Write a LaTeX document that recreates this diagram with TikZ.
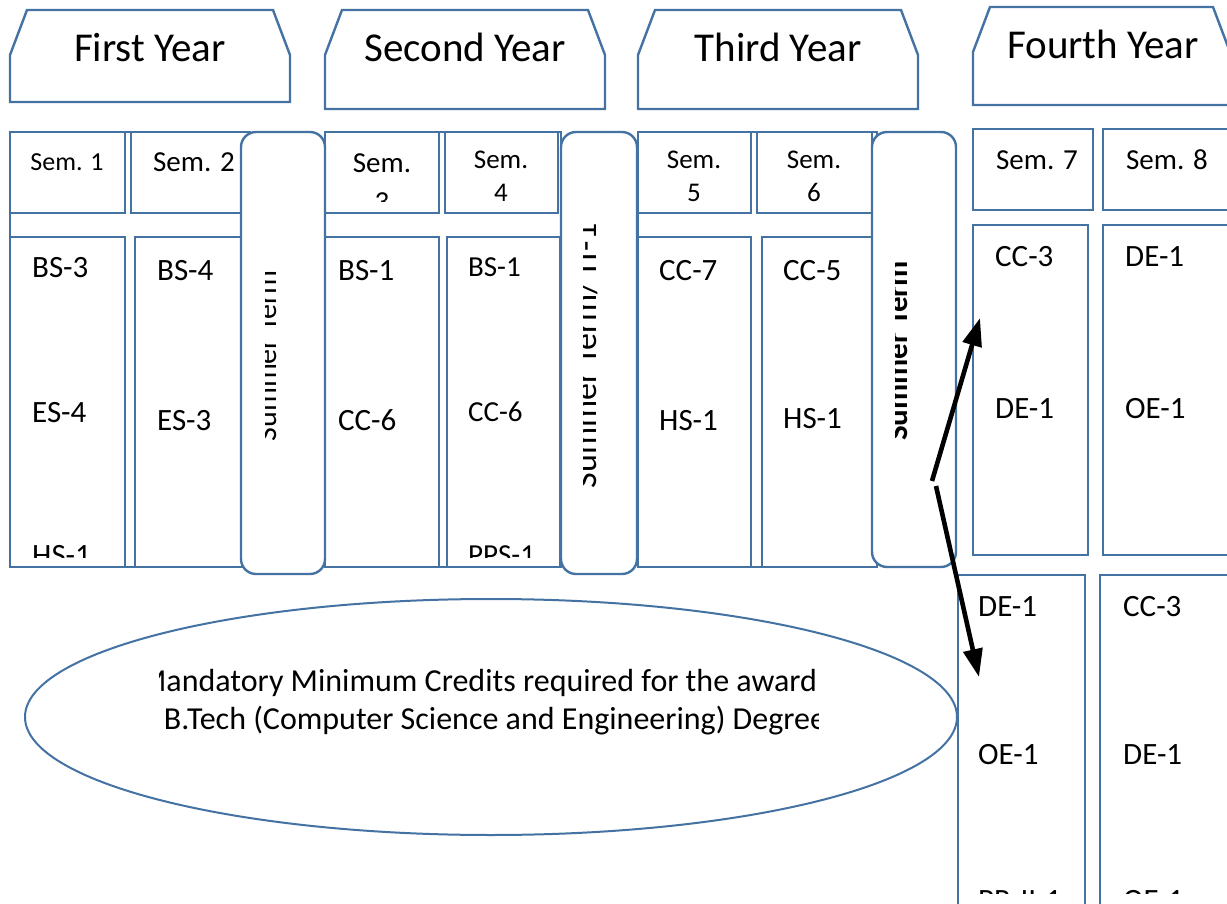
\documentclass[tikz,border=0pt]{standalone}
\usepackage{fontspec}
\setmainfont{Carlito}
\usetikzlibrary{arrows.meta,shapes.geometric}
\definecolor{edge}{RGB}{68,114,163}
\tikzset{
  ln/.style={draw=edge, line width=2.4pt, fill=white},
  pill/.style={ln, rounded corners=15pt},
  lbl/.style={anchor=base west, inner sep=0pt, font=\fontsize{31}{37}\selectfont},
  smallbl/.style={anchor=base west, inner sep=0pt, font=\fontsize{29}{35}\selectfont},
  semlbl/.style={anchor=base, inner sep=0pt},
  head/.style={anchor=base, inner sep=0pt, font=\fontsize{41}{49}\selectfont},
  vtxt/.style={rotate=90, anchor=base, inner sep=0pt},
  jump/.style={line width=4.6pt, -{Triangle[length=28pt,width=19pt]}},
}
% year tab: left x, right x, top y, bottom y
\newcommand\yeartab[4]{%
  \draw[ln] (#1+17,#3) -- (#2-17,#3) -- (#2,#3+45) -- (#2,#4) -- (#1,#4) -- (#1,#3+45) -- cycle;}
\begin{document}
\begin{tikzpicture}[x=1pt,y=-1pt]
\clip (0,0) rectangle (1227,904);
\fill[white] (0,0) rectangle (1227,904);

% ---- year tabs ----
\yeartab{10}{290}{10}{102}
\yeartab{325}{605}{10}{109}
\yeartab{638}{918}{10}{109}
\yeartab{973}{1230}{7}{105}
\node[head] (y1) at (150,62) {First Year};
\node[head] (y2) at (465,62) {Second Year};
\node[head] (y3) at (778,62) {Third Year};
\node[head] (y4) at (1103,59) {Fourth Year};

% ---- year columns ----
\draw[ln] (10,132) rectangle (250,567);
\draw[ln] (325,132) rectangle (561,567);
\draw[ln] (638,132) rectangle (877,567);

% ---- semester boxes ----
\draw[ln] (10,132) rectangle (125,213);
\draw[ln] (131,132) rectangle (250,213);
\draw[ln] (325,132) rectangle (439,213);
\draw[ln] (445,132) rectangle (558,213);
\draw[ln] (638,132) rectangle (751,213);
\draw[ln] (757,132) rectangle (872,213);
\draw[ln] (973,129) rectangle (1093,210);
\draw[ln] (1103,129) rectangle (1240,210);

\node[semlbl, font=\fontsize{26}{31}\selectfont] (s1) at (67,171) {Sem. 1};
\node[semlbl, font=\fontsize{29}{35}\selectfont] (s2) at (194,172) {Sem. 2};
\node[semlbl, font=\fontsize{29}{35}\selectfont] (s3a) at (382,173) {Sem.};
\begin{scope}
  \clip (325,132) rectangle (439,202);
  \node[semlbl, font=\fontsize{29}{35}\selectfont] (s3b) at (382,212) {3};
\end{scope}
\node[semlbl, font=\fontsize{27}{32}\selectfont] (s4a) at (501,169) {Sem.};
\node[semlbl, font=\fontsize{27}{32}\selectfont] (s4b) at (501,202) {4};
\node[semlbl, font=\fontsize{27}{32}\selectfont] (s5a) at (694,169) {Sem.};
\node[semlbl, font=\fontsize{27}{32}\selectfont] (s5b) at (694,202) {5};
\node[semlbl, font=\fontsize{27}{32}\selectfont] (s6a) at (814,169) {Sem.};
\node[semlbl, font=\fontsize{27}{32}\selectfont] (s6b) at (814,202) {6};
\node[semlbl, font=\fontsize{29}{35}\selectfont] (s7) at (1037,170) {Sem. 7};
\node[semlbl, font=\fontsize{29}{35}\selectfont] (s8) at (1167,170) {Sem. 8};

% ---- course boxes ----
\draw[ln] (10,237) rectangle (125,567);
\draw[ln] (135,237) rectangle (250,567);
\draw[ln] (325,237) rectangle (439,567);
\draw[ln] (447,237) rectangle (560,567);
\draw[ln] (638,237) rectangle (751,567);
\draw[ln] (762,237) rectangle (877,567);
\draw[ln] (973,225) rectangle (1088,555);
\draw[ln] (1103,225) rectangle (1240,555);
\draw[ln] (958,575) rectangle (1085,920);
\draw[ln] (1100,575) rectangle (1240,920);

\node[lbl] (c1a) at (32,278) {BS-3};
\node[lbl] (c1b) at (32,422) {ES-4};
\begin{scope}
  \clip (10,237) rectangle (125,557);
  \node[lbl] (c1c) at (32,565) {HS-1};
\end{scope}
\node[lbl] (c2a) at (157,280) {BS-4};
\node[lbl] (c2b) at (157,430) {ES-3};
\node[lbl] (c3a) at (338,280) {BS-1};
\node[lbl] (c3b) at (338,430) {CC-6};
\node[smallbl] (c4a) at (468,277) {BS-1};
\node[smallbl] (c4b) at (468,421) {CC-6};
\begin{scope}
  \clip (447,237) rectangle (560,557);
  \node[smallbl] (c4c) at (468,564) {PPS-1};
\end{scope}
\node[lbl] (c5a) at (659,280) {CC-7};
\node[lbl] (c5b) at (659,430) {HS-1};
\node[lbl] (c6a) at (783,280) {CC-5};
\node[lbl] (c6b) at (783,428) {HS-1};
\node[lbl] (c7a) at (995,267) {CC-3};
\node[lbl] (c7b) at (995,418) {DE-1};
\node[lbl] (c8a) at (1125,267) {DE-1};
\node[lbl] (c8b) at (1125,418) {OE-1};
\node[lbl] (d7a) at (978,616) {DE-1};
\node[lbl] (d7b) at (978,764) {OE-1};
\node[lbl] (d8a) at (1123,616) {CC-3};
\node[lbl] (d8b) at (1123,764) {DE-1};
\begin{scope}
  \clip (958,575) rectangle (1240,893);
  \node[lbl] (d7c) at (978,910) {PR-II-1};
  \node[lbl] (d8c) at (1123,910) {OE-1};
\end{scope}

% ---- summer terms ----
\draw[pill] (241,132) rectangle (325,574);
\draw[pill] (561,132) rectangle (637,574);
\draw[pill] (872,132) rectangle (956,567);
\begin{scope}
  \clip (265,140) rectangle (320,570);
  \node[vtxt, font=\fontsize{30}{36}\selectfont] (t1) at (276,356) {Summer Term};
\end{scope}
\begin{scope}
  \clip (583,140) rectangle (632,570);
  \node[vtxt, font=\fontsize{34}{40}\selectfont] (t2) at (596,356) {Summer Term/ IT-1};
\end{scope}
\begin{scope}
  \clip (895,140) rectangle (950,560);
  \node[vtxt, font=\bfseries\fontsize{31}{37}\selectfont] (t3) at (907,351) {Summer Term};
\end{scope}

% ---- credit requirement ----
\node[ln, line width=2pt, ellipse, minimum width=932pt, minimum height=236pt, inner sep=0pt] (goal) at (491,717) {};
\begin{scope}
  \clip (159,640) rectangle (818,760);
  \node[semlbl, font=\fontsize{32}{38}\selectfont] (g1) at (495,691) {Mandatory Minimum Credits required for the award of};
  \node[semlbl, font=\fontsize{32}{38}\selectfont] (g2) at (495,729) {B.Tech (Computer Science and Engineering) Degree};
\end{scope}

% ---- elective arrows ----
\coordinate (forkA) at (932,481);
\coordinate (forkB) at (936,486);
\coordinate (tipUp) at (980,318);
\coordinate (tipDn) at (979,677);
\draw[jump] (forkA) -- (tipUp);
\draw[jump] (forkB) -- (tipDn);
\end{tikzpicture}
\end{document}
